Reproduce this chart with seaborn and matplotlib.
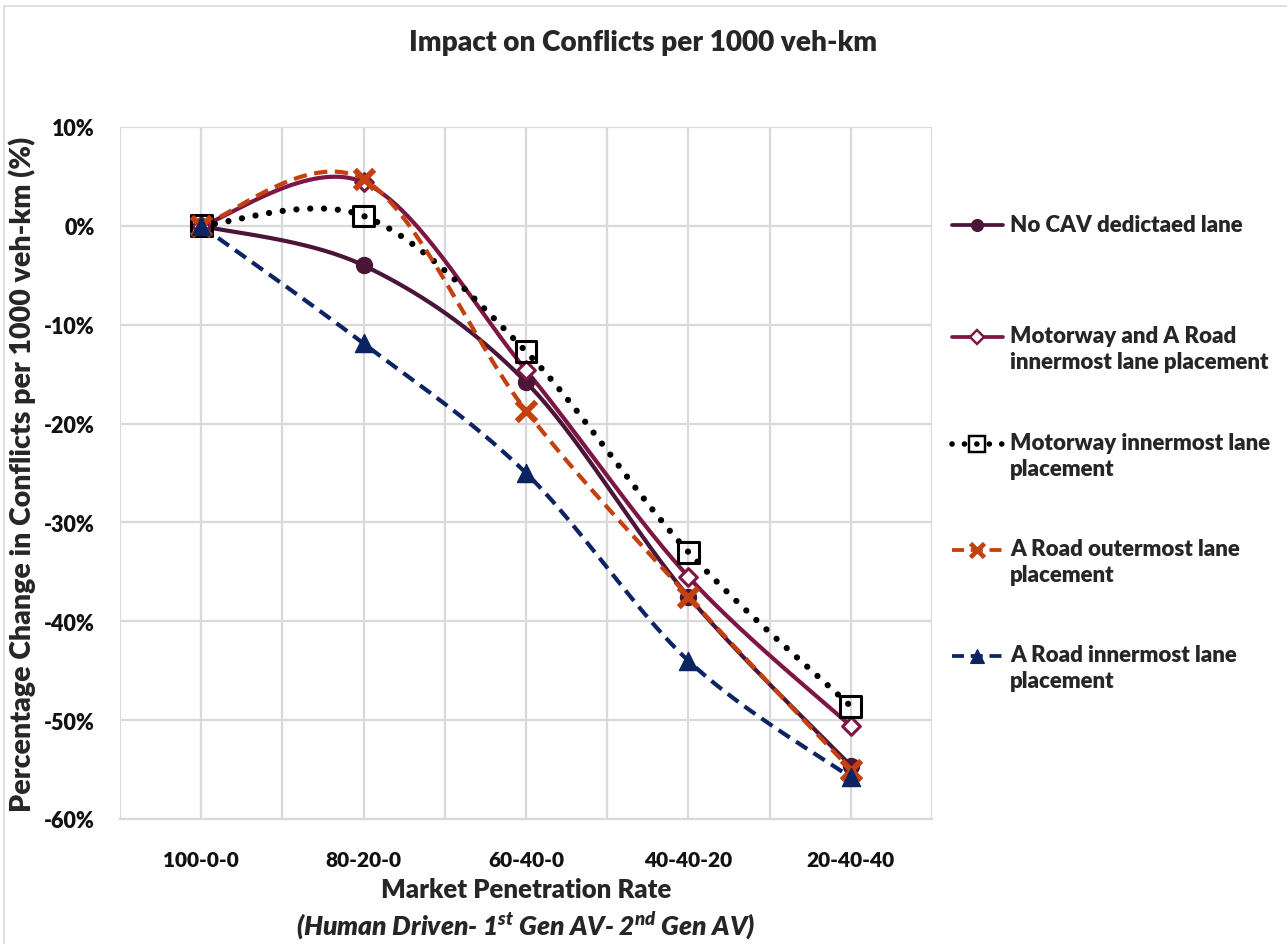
import numpy as np
import matplotlib
matplotlib.use("Agg")
import matplotlib.pyplot as plt
import seaborn as sns
import pandas as pd
from matplotlib.lines import Line2D
from matplotlib.patches import Rectangle

# ---------------- data ----------------
categories = ["100-0-0", "80-20-0", "60-40-0", "40-40-20", "20-40-40"]
no_cav = [0.0, -4.0, -15.8, -37.5, -54.6]
mw_and_a = [0.0, 4.4, -14.6, -35.5, -50.6]
mw_inner = [0.0, 1.0, -12.7, -33.0, -48.6]
a_outer = [0.0, 4.7, -18.7, -37.5, -55.0]
a_inner = [0.0, -11.9, -25.0, -44.0, -55.8]
series_names = [
    "No CAV dedictaed lane",
    "Motorway and A Road\ninnermost lane placement",
    "Motorway innermost lane\nplacement",
    "A Road outermost lane\nplacement",
    "A Road innermost lane\nplacement",
]
yticks = [10, 0, -10, -20, -30, -40, -50, -60]

# ---------------- style ----------------
sns.set_theme(style="white")
FONT = ["Lato", "DejaVu Sans"]
WEIGHT = "heavy"
plt.rcParams["font.family"] = FONT
plt.rcParams["mathtext.fontset"] = "custom"
plt.rcParams["mathtext.rm"] = "Lato:italic:heavy"
plt.rcParams["mathtext.it"] = "Lato:italic:heavy"

styles = [
    dict(color="#4a1538", ls="-", lw=3.0, marker="o", ms=11, mfc="#4a1538", mec="#4a1538", mew=1.5),
    dict(color="#7d1642", ls="-", lw=3.0, marker="D", ms=9, mfc="white", mec="#7d1642", mew=2.2),
    dict(color="black", ls=(0, (0.01, 2.2)), lw=4.5, dash_capstyle="round", marker="s", ms=15,
         mfc="none", mec="black", mew=2.2),
    dict(color="#c4410f", ls=(0, (3.2, 1.8)), lw=3.0, marker="x", ms=14, mfc="#c4410f", mec="#c4410f", mew=4.2),
    dict(color="#0c2462", ls=(0, (3.2, 1.8)), lw=3.0, marker="^", ms=13, mfc="#0c2462", mec="#0c2462", mew=1),
]
all_vals = [no_cav, mw_and_a, mw_inner, a_outer, a_inner]

df = pd.DataFrame({"cat": categories * len(all_vals),
                   "x": list(range(len(categories))) * len(all_vals),
                   "val": sum(all_vals, []),
                   "series": sum([[n] * len(categories) for n in series_names], [])})


def smooth(xs, ys, n=40):
    """Excel-like smoothed line: cubic Bezier with Catmull-Rom control points."""
    xs = np.asarray(xs, float)
    ys = np.asarray(ys, float)
    P = np.column_stack([xs, ys])
    out = [P[0]]
    for i in range(len(P) - 1):
        p0 = P[i - 1] if i > 0 else P[i]
        p1 = P[i]
        p2 = P[i + 1]
        p3 = P[i + 2] if i + 2 < len(P) else P[i + 1]
        c1 = p1 + (p2 - p0) / 6.0
        c2 = p2 - (p3 - p1) / 6.0
        t = np.linspace(0, 1, n)[1:, None]
        seg = ((1 - t) ** 3) * p1 + 3 * ((1 - t) ** 2) * t * c1 + 3 * (1 - t) * t ** 2 * c2 + t ** 3 * p2
        out.extend(seg)
    out = np.array(out)
    return out[:, 0], out[:, 1]


W, H = 1287, 945
fig = plt.figure(figsize=(W / 100, H / 100), dpi=100)
ax = fig.add_axes([120 / W, 1 - 820 / H, (932 - 120) / W, (820 - 128) / H])

# chart outer border
fig.patches.append(Rectangle((4 / W, -0.01), 1.02, 1 - 7 / H + 0.01, transform=fig.transFigure,
                             fill=False, ec="#d9d9d9", lw=1.2, zorder=0))

for i, name in enumerate(series_names):
    sub = df[df["series"] == name]
    st = styles[i]
    sx, sy = smooth(sub["x"].values, sub["val"].values)
    line_kw = {k: v for k, v in st.items() if k in ("color", "ls", "lw", "dash_capstyle")}
    ax.plot(sx, sy, zorder=3 + i, solid_capstyle="round", **line_kw)
    sns.scatterplot(x=sub["x"], y=sub["val"], ax=ax, legend=False, zorder=10 + i,
                    marker=st["marker"], s=st["ms"] ** 2,
                    facecolor=st["mfc"] if st["mfc"] != "none" else "none",
                    edgecolor=st["mec"], linewidth=st["mew"],
                    color=st["mec"] if st["marker"] == "x" else None)

ax.set_xlim(-0.5, len(categories) - 0.5)
ax.set_ylim(-60, 10)
ax.set_xticks(range(len(categories)))
ax.set_xticklabels(categories)
ax.set_xticks(np.arange(-0.5, len(categories), 0.5), minor=True)
ax.set_yticks(yticks)
ax.set_yticklabels([f"{v}%" for v in yticks])
ax.grid(True, which="both", axis="x", color="#d9d9d9", lw=1.6)
ax.grid(True, which="major", axis="y", color="#d9d9d9", lw=1.6)
ax.set_axisbelow(True)
for sp in ["top", "right", "left"]:
    ax.spines[sp].set_visible(False)
ax.spines["bottom"].set_color("#d9d9d9")
ax.spines["bottom"].set_linewidth(1.6)
ax.tick_params(axis="both", which="both", length=0, labelcolor="#111111")
ax.tick_params(axis="x", pad=22, labelsize=15)
ax.tick_params(axis="y", pad=18, labelsize=15.5)
for lab in ax.get_xticklabels() + ax.get_yticklabels():
    lab.set_fontweight(WEIGHT)
ax.set_xlabel("")
ax.set_ylabel("Percentage Change in Conflicts per 1000 veh-km (%)", fontsize=20.5,
              fontweight=WEIGHT, labelpad=6)

fig.text(643 / W, 1 - 43 / H, "Impact on Conflicts per 1000 veh-km", ha="center", va="center",
         fontsize=20.2, fontweight=WEIGHT)
fig.text(526 / W, 1 - 890 / H, "Market Penetration Rate", ha="center", va="center",
         fontsize=18.5, fontweight=WEIGHT)
fig.text(526 / W, 1 - 926 / H, r"(Human Driven- 1$^{\mathrm{st}}$ Gen AV- 2$^{\mathrm{nd}}$ Gen AV)",
         ha="center", va="center", fontsize=19, fontweight=WEIGHT, style="italic")

# legend (manual, handle aligned with first text line)
leg_y = [226, 338, 445, 551, 657]
n_fixed = len(fig.texts)
for i, name in enumerate(series_names):
    st = styles[i]
    yf = 1 - leg_y[i] / H
    x0, x1 = 952 / W, 1003 / W
    hl = Line2D([x0, (x0 + x1) / 2, x1], [yf, yf, yf], transform=fig.transFigure,
                color=st["color"], ls=st["ls"], lw=st["lw"] * 0.9,
                dash_capstyle=st.get("dash_capstyle", "butt"),
                marker=st["marker"], markevery=[1], ms=st["ms"] * 0.75,
                mfc=st["mfc"], mec=st["mec"], mew=st["mew"] * 0.8)
    fig.lines.append(hl)
    fig.text(1010 / W, yf, name, ha="left", va="top", fontsize=16, fontweight=WEIGHT,
             linespacing=1.3, transform=fig.transFigure)
fig.canvas.draw()
for t in fig.texts[n_fixed:]:
    bb = t.get_window_extent()
    nlines = t.get_text().count("\n") + 1
    line_h = bb.height / nlines
    x, y = t.get_position()
    t.set_position((x, y + (line_h / 2) / H))

fig.savefig("out.png", dpi=100, facecolor="white")
